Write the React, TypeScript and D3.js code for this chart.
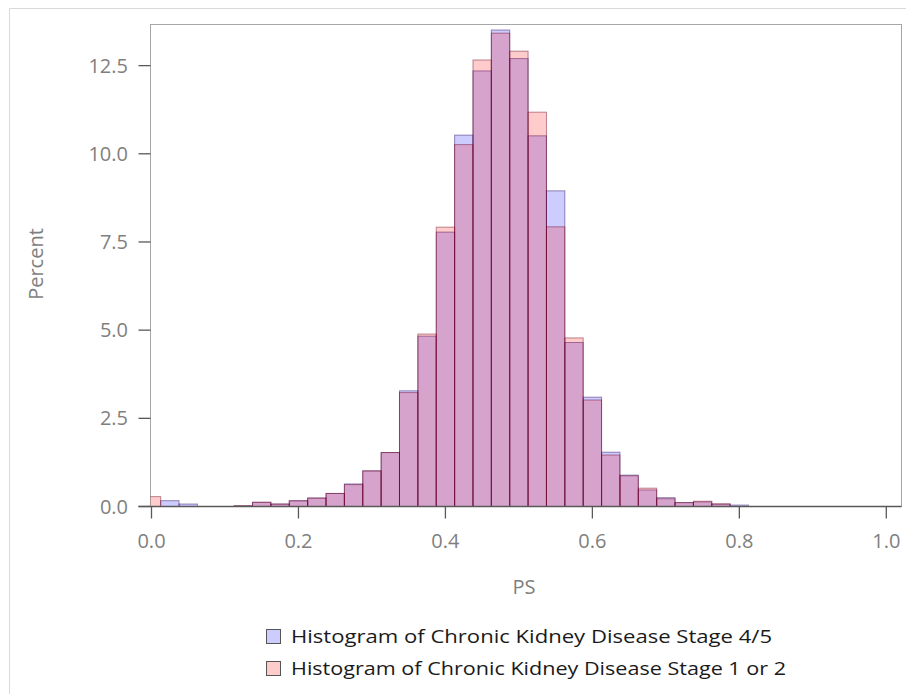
import React from "react";
import * as d3 from "d3";

const binCenters = [0, 0.025, 0.05, 0.075, 0.1, 0.125, 0.15, 0.175, 0.2, 0.225, 0.25, 0.275, 0.3, 0.325, 0.35, 0.375, 0.4, 0.425, 0.45, 0.475, 0.5, 0.525, 0.55, 0.575, 0.6, 0.625, 0.65, 0.675, 0.7, 0.725, 0.75, 0.775, 0.8];
const stage45 = [0, 0.165, 0.07, 0, 0, 0.02, 0.12, 0.07, 0.165, 0.24, 0.37, 0.64, 1.01, 1.53, 3.28, 4.83, 7.78, 10.53, 12.35, 13.51, 12.7, 10.51, 8.95, 4.65, 3.1, 1.54, 0.89, 0.47, 0.25, 0.11, 0.13, 0.06, 0.04];
const stage12 = [0.28, 0, 0, 0, 0, 0.02, 0.12, 0.07, 0.16, 0.24, 0.37, 0.62, 1.01, 1.53, 3.23, 4.89, 7.92, 10.26, 12.66, 13.42, 12.91, 11.18, 7.93, 4.78, 3.02, 1.46, 0.87, 0.52, 0.22, 0.11, 0.15, 0.08, 0];
const binWidth = 0.025;
const xTicks = [0, 0.2, 0.4, 0.6, 0.8, 1.0];
const yTicks = [0, 2.5, 5.0, 7.5, 10.0, 12.5];
const legendLabels = ["Histogram of Chronic Kidney Disease Stage 4/5", "Histogram of Chronic Kidney Disease Stage 1 or 2"];

const FONT = "'Open Sans', 'Noto Sans', sans-serif";

export default function App() {
  const plotL = 150.5, plotR = 901.5, plotT = 24.5, plotB = 506.5;
  const x = d3.scaleLinear().domain([0, 1]).range([151.5, 886.3]);
  const y = d3.scaleLinear().domain([0, 12.5]).range([plotB, plotB - 12.5 * 35.27]);

  const series = [
    { values: stage45, fill: "rgba(0,0,255,0.2)", stroke: "rgba(40,0,90,0.45)" },
    { values: stage12, fill: "rgba(255,0,0,0.2)", stroke: "rgba(110,0,30,0.45)" },
  ];
  const legendColors = ["#ccccff", "#ffcccc"];

  return (
    <svg width={906} height={694} style={{ position: "absolute", left: 0, top: 0, background: "#fff" }}>
      <defs>
        <clipPath id="plotclip">
          <rect x={plotL} y={plotT} width={plotR - plotL} height={plotB - plotT} />
        </clipPath>
      </defs>
      {/* outer frame */}
      <line x1={9.5} y1={8.5} x2={906} y2={8.5} stroke="#d9d9d9" strokeWidth={1} />
      <line x1={9.5} y1={8.5} x2={9.5} y2={694} stroke="#d9d9d9" strokeWidth={1} />

      {/* plot frame */}
      <rect x={plotL} y={plotT} width={plotR - plotL} height={plotB - plotT} fill="none" stroke="#a6a6a6" strokeWidth={1} />

      <g clipPath="url(#plotclip)">
        {series.map((s, si) => (
          <g key={si}>
            {binCenters.map((c, i) =>
              s.values[i] > 0 ? (
                <rect
                  key={i}
                  x={x(c - binWidth / 2)}
                  y={y(s.values[i])}
                  width={x(c + binWidth / 2) - x(c - binWidth / 2)}
                  height={y(0) - y(s.values[i])}
                  fill={s.fill}
                  stroke={s.stroke}
                  strokeWidth={1}
                />
              ) : null
            )}
          </g>
        ))}
      </g>

      {/* bottom axis */}
      <line x1={plotL - 12} y1={plotB} x2={plotR} y2={plotB} stroke="#595959" strokeWidth={1.3} />
      {xTicks.map((t) => (
        <g key={t}>
          <line x1={x(t)} y1={plotB} x2={x(t)} y2={plotB + 12} stroke="#595959" strokeWidth={1.3} />
          <text x={x(t)} y={548} textAnchor="middle" fontFamily={FONT} fontSize={20} fill="#7f7f7f">
            {t.toFixed(1)}
          </text>
        </g>
      ))}
      {yTicks.map((t) => (
        <g key={t}>
          <line x1={plotL - 12} y1={y(t)} x2={plotL} y2={y(t)} stroke="#595959" strokeWidth={1.3} />
          <text x={128} y={y(t)} dy="0.35em" textAnchor="end" fontFamily={FONT} fontSize={20} fill="#7f7f7f">
            {t.toFixed(1)}
          </text>
        </g>
      ))}

      <text x={524} y={594} textAnchor="middle" fontFamily={FONT} fontSize={20} fill="#7f7f7f">PS</text>
      <text transform="translate(43,264) rotate(-90)" textAnchor="middle" fontFamily={FONT} fontSize={20} fill="#7f7f7f">Percent</text>

      {/* legend */}
      {legendLabels.map((lab, i) => (
        <g key={lab}>
          <rect x={266.5} y={629.5 + i * 32} width={14} height={14} fill={legendColors[i]} stroke="#555" strokeWidth={1} />
          <text x={291} y={643 + i * 32} fontFamily={FONT} fontSize={18.5} fill="#1a1a1a"
            textLength={i === 0 ? 481 : 495} lengthAdjust="spacingAndGlyphs">
            {lab}
          </text>
        </g>
      ))}
    </svg>
  );
}
